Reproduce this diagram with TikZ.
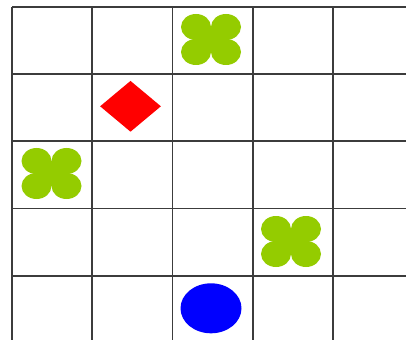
\documentclass[tikz,border=0pt]{standalone}
\usepackage{tikz}
\usetikzlibrary{shapes.geometric}
\definecolor{leafgreen}{RGB}{148,204,0}
\definecolor{gridgray}{RGB}{60,60,60}

\tikzset{
  gridline/.style={gridgray, line width=1.2pt},
  leaf/.style={fill=leafgreen},
  clover/.pic={
    \fill[leaf] (-15,-12.5) rectangle (15,12.5);
    \foreach \dx in {-15,15}
      \foreach \dy in {-12.5,12.5}
        \fill[leaf] (\dx,\dy) ellipse [x radius=15, y radius=13];
  }
}

\begin{document}
\begin{tikzpicture}[x=0.025cm, y=-0.025cm]
    \useasboundingbox (0,0) rectangle (406,340);
    \fill[white] (0,0) rectangle (406,340);
    % board
    \foreach \gx in {12,92.3,172.6,252.9,333.2}
      \draw[gridline] (\gx,6.7) -- (\gx,340);
    \foreach \gy in {6.7,74,141.3,208.6,275.9}
      \draw[gridline] (12,\gy) -- (406,\gy);
    % pieces
    \pic (cloverA) at (211,39.5) {clover};
    \pic (cloverB) at (51.5,173.5) {clover};
    \pic (cloverC) at (291,241.5) {clover};
    \node[diamond, fill=red, inner sep=0pt, minimum width=61*0.025cm, minimum height=51*0.025cm] (gem) at (130.5,106.3) {};
    \node[ellipse, fill=blue, inner sep=0pt, minimum width=61*0.025cm, minimum height=50*0.025cm] (ball) at (211,308.3) {};
  \end{tikzpicture}
\end{document}
